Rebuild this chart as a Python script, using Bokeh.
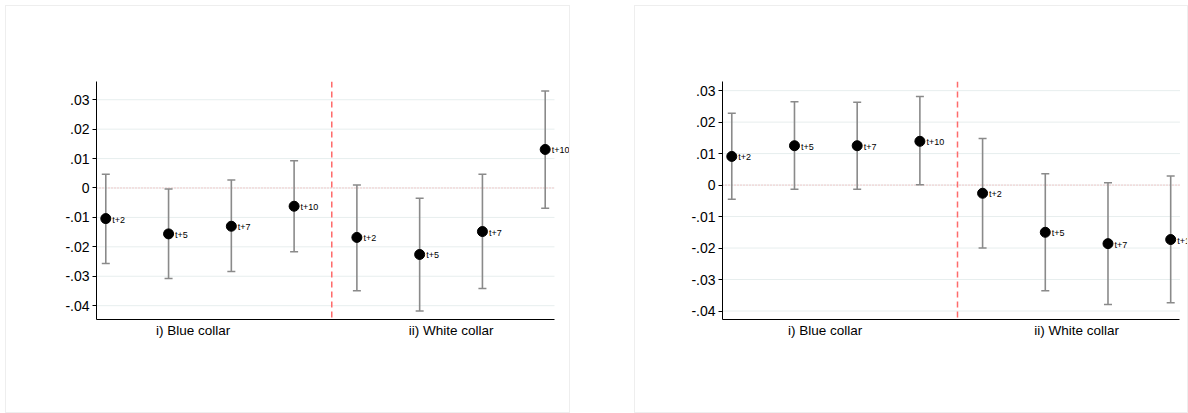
from bokeh.plotting import figure
from bokeh.layouts import row
from bokeh.models import Range1d, FixedTicker, Span, ColumnDataSource, LabelSet
from bokeh.embed import file_html
from bokeh.resources import INLINE
from bokeh.core.properties import value

horizons = ["t+2", "t+5", "t+7", "t+10", "t+2", "t+5", "t+7", "t+10"]
groups = ["i) Blue collar", "ii) White collar"]
xpos = [1, 2, 3, 4, 5, 6, 7, 8]
yticks = [-0.04, -0.03, -0.02, -0.01, 0.0, 0.01, 0.02, 0.03]
ytick_labels = ["-.04", "-.03", "-.02", "-.01", "0", ".01", ".02", ".03"]

# Left panel
left_est = [-0.0104, -0.0156, -0.0130, -0.0062, -0.0168, -0.0226, -0.0148, 0.0131]
left_lo = [-0.0257, -0.0308, -0.0284, -0.0217, -0.0349, -0.0418, -0.0342, -0.0069]
left_hi = [0.0047, -0.0003, 0.0027, 0.0093, 0.0010, -0.0035, 0.0047, 0.0330]

# Right panel
right_est = [0.0091, 0.0125, 0.0125, 0.0139, -0.0026, -0.0150, -0.0186, -0.0173]
right_lo = [-0.0045, -0.0013, -0.0013, 0.0001, -0.0200, -0.0336, -0.0379, -0.0374]
right_hi = [0.0228, 0.0265, 0.0263, 0.0281, 0.0148, 0.0036, 0.0007, 0.0029]

FONT = "Liberation Sans"
X0, X1 = 0.852, 8.148  # plotted region of the x axis


def panel(est, lo, hi, yr, width, margin, borders, group_x, x_end):
    p = figure(width=width, height=408, output_backend="svg", toolbar_location=None,
               x_range=Range1d(X0, x_end), y_range=Range1d(*yr),
               min_border_left=borders[0], min_border_right=borders[1],
               min_border_top=borders[2], min_border_bottom=borders[3],
               margin=margin, styles={"border": "1px solid #eeeeee"})
    p.outline_line_color = None
    p.background_fill_color = "white"
    p.border_fill_color = "white"

    src = ColumnDataSource(dict(x=xpos, est=est, lo=lo, hi=hi, lab=horizons))

    # y axis
    ya = p.yaxis[0]
    ya.ticker = FixedTicker(ticks=yticks)
    ya.major_label_overrides = {t: l for t, l in zip(yticks, ytick_labels)}
    ya.major_tick_out = 4
    ya.major_tick_in = 0
    ya.minor_tick_line_color = None
    ya.axis_line_color = "black"
    ya.major_tick_line_color = "black"
    ya.major_label_text_font = FONT
    ya.major_label_text_font_size = "14px"
    ya.major_label_text_color = "black"
    ya.major_label_standoff = 3

    # x axis (group labels)
    xa = p.xaxis[0]
    xa.bounds = (X0, X1)
    xa.ticker = FixedTicker(ticks=[group_x, 6.5])
    xa.major_label_overrides = {group_x: groups[0], 6.5: groups[1]}
    xa.major_tick_out = 0
    xa.major_tick_in = 0
    xa.minor_tick_line_color = None
    xa.axis_line_color = "black"
    xa.major_label_text_font = FONT
    xa.major_label_text_font_size = "13.5px"
    xa.major_label_text_color = "black"
    xa.major_label_standoff = 3

    p.xgrid.visible = False
    p.ygrid.visible = False
    gx0 = [X0] * len(yticks)
    gx1 = [X1] * len(yticks)
    p.segment(x0=gx0, y0=yticks, x1=gx1, y1=yticks, line_color="#e7eeee",
              line_width=1)
    p.segment(x0=[X0], y0=[0], x1=[X1], y1=[0], line_color="#f08a8a",
              line_width=0.8, line_dash="1 2")
    p.add_layout(Span(location=4.6, dimension="height", line_color="#ff6b6b",
                      line_width=1.5, line_dash="6 4"))

    p.segment(x0="x", y0="lo", x1="x", y1="hi", source=src,
              line_color="#8a8a8a", line_width=1.6)
    p.scatter(x="x", y="lo", source=src, marker="dash", size=8,
              line_color="#8a8a8a", line_width=1.5)
    p.scatter(x="x", y="hi", source=src, marker="dash", size=8,
              line_color="#8a8a8a", line_width=1.5)
    p.scatter(x="x", y="est", source=src, size=10, fill_color="black",
              line_color="black")
    p.add_layout(LabelSet(x="x", y="est", text="lab", source=src,
                          x_offset=6.5, y_offset=-1,
                          text_font=value(FONT), text_font_size=value("9px"),
                          text_baseline="middle", text_align="left",
                          text_color="black"))
    return p


p1 = panel(left_est, left_lo, left_hi, (-0.0447, 0.0362), 565, (5, 0, 0, 5),
           (90, 1, 75, 95), 2.39, 8.403)
p2 = panel(right_est, right_lo, right_hi, (-0.0427, 0.0329), 554, (5, 0, 0, 64),
           (87, 0, 75, 95), 2.49, 8.30)

layout = row(p1, p2)
open("out.html", "w").write(file_html(layout, INLINE))
